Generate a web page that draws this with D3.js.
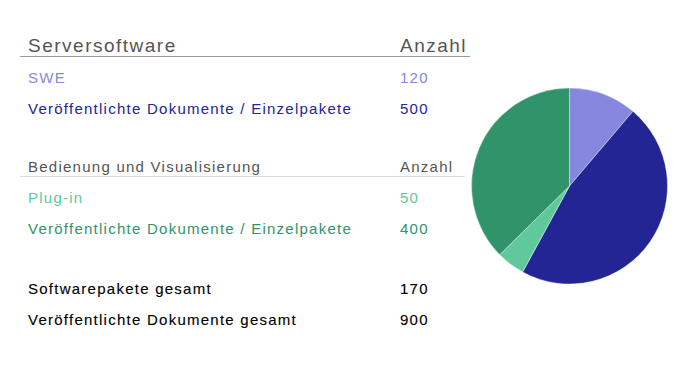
<!DOCTYPE html>
<html>
<head>
<meta charset="utf-8">
<script src="https://cdn.jsdelivr.net/npm/d3@7"></script>
<style>
  body { margin: 0; background: #fff; }
  svg { display: block; font-family: "Liberation Sans", Arial, sans-serif; }
</style>
</head>
<body>
<svg id="chart"></svg>
<script>
const serverTitle = "Serversoftware";
const serverLabels = ["SWE", "Veröffentlichte Dokumente / Einzelpakete"];
const serverValues = [120, 500];

const bedienTitle = "Bedienung und Visualisierung";
const bedienLabels = ["Plug-in", "Veröffentlichte Dokumente / Einzelpakete"];
const bedienValues = [50, 400];

const totalLabels = ["Softwarepakete gesamt", "Veröffentlichte Dokumente gesamt"];
const totalValues = [170, 900];

const countHeader = "Anzahl";

const serverColors = ["#8787e0", "#232594"];
const bedienColors = ["#5fc99b", "#31936a"];

const width = 678;
const height = 371;

const svg = d3.select("#chart").attr("width", width).attr("height", height);

const labelX = 28;
const valueX = 400;
const rowStep = 30.5;

// one block of the table: header, rule, rows
function block(g, title, titleSize, ruleColor, ruleEnd, headerY, labels, values, colors) {
  const spacing = titleSize > 16 ? 1.5 : 1.25;
  g.append("text")
    .attr("x", labelX)
    .attr("y", headerY)
    .attr("fill", "#555")
    .attr("font-size", titleSize)
    .attr("letter-spacing", spacing)
    .text(title);
  g.append("text")
    .attr("x", valueX)
    .attr("y", headerY)
    .attr("fill", "#555")
    .attr("font-size", titleSize)
    .attr("letter-spacing", spacing)
    .text(countHeader);
  g.append("line")
    .attr("x1", 20).attr("x2", ruleEnd)
    .attr("y1", headerY + 4.5).attr("y2", headerY + 4.5)
    .attr("stroke", ruleColor)
    .attr("stroke-width", 1);

  const rows = g.selectAll("g.row")
    .data(labels.map((l, i) => ({ label: l, value: values[i], color: colors[i] })))
    .join("g")
    .attr("class", "row")
    .attr("transform", (d, i) => `translate(0,${headerY + 31 + i * rowStep})`);
  rows.append("text")
    .attr("x", labelX)
    .attr("fill", d => d.color)
    .attr("font-size", 15)
    .attr("letter-spacing", 1.25)
    .text(d => d.label);
  rows.append("text")
    .attr("x", valueX)
    .attr("fill", d => d.color)
    .attr("font-size", 15)
    .attr("letter-spacing", 1.25)
    .text(d => d.value);
}

block(svg.append("g"), serverTitle, 19, "#9a9a9a", 470, 52, serverLabels, serverValues, serverColors);
block(svg.append("g"), bedienTitle, 15, "#dcdcdc", 465, 172, bedienLabels, bedienValues, bedienColors);

// totals
const totals = svg.append("g").selectAll("g")
  .data(totalLabels.map((l, i) => ({ label: l, value: totalValues[i] })))
  .join("g")
  .attr("transform", (d, i) => `translate(0,${294 + i * rowStep})`);
totals.append("text")
  .attr("x", labelX)
  .attr("fill", "#000")
  .attr("font-size", 15)
  .attr("letter-spacing", 1.25)
  .attr("stroke", "#000")
  .attr("stroke-width", 0.12)
  .text(d => d.label);
totals.append("text")
  .attr("x", valueX)
  .attr("fill", "#000")
  .attr("font-size", 15)
  .attr("letter-spacing", 1.25)
  .attr("stroke", "#000")
  .attr("stroke-width", 0.12)
  .text(d => d.value);

// pie
const pieValues = serverValues.concat(bedienValues);
const pieColors = serverColors.concat(bedienColors);
const pie = d3.pie().sort(null).value(d => d)(pieValues);
const arc = d3.arc().innerRadius(0).outerRadius(98);

svg.append("g")
  .attr("transform", "translate(569.5,186)")
  .selectAll("path")
  .data(pie)
  .join("path")
  .attr("d", arc)
  .attr("fill", (d, i) => pieColors[i])
  .attr("stroke", "#fff")
  .attr("stroke-width", 0.4);
</script>
</body>
</html>
